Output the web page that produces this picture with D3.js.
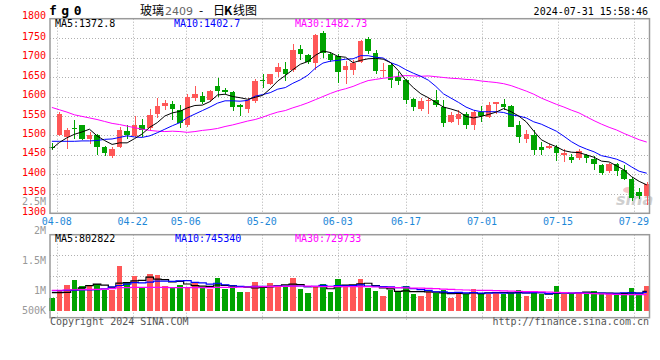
<!DOCTYPE html>
<html>
<head>
<meta charset="utf-8">
<script src="https://cdn.jsdelivr.net/npm/d3@7"></script>
<style>
  body { margin: 0; background: #fff; }
  svg { display: block; }
  text { font-family: "DejaVu Sans Mono", monospace; font-size: 10px; }
</style>
</head>
<body>
<div id="chart"></div>
<script>
// trading days shown (2024)
const dates = [
  "04-03","04-08","04-09","04-10","04-11","04-12","04-15","04-16","04-17","04-18",
  "04-19","04-22","04-23","04-24","04-25","04-26","04-29","04-30","05-06","05-07",
  "05-08","05-09","05-10","05-13","05-14","05-15","05-16","05-17","05-20","05-21",
  "05-22","05-23","05-24","05-27","05-28","05-29","05-30","05-31","06-03","06-04",
  "06-05","06-06","06-07","06-11","06-12","06-13","06-14","06-17","06-18","06-19",
  "06-20","06-21","06-24","06-25","06-26","06-27","06-28","07-01","07-02","07-03",
  "07-04","07-05","07-08","07-09","07-10","07-11","07-12","07-15","07-16","07-17",
  "07-18","07-19","07-22","07-23","07-24","07-25","07-26","07-29","07-30","07-31"
];
const tickDates = ["04-08","04-22","05-06","05-20","06-03","06-17","07-01","07-15","07-29"];
const priceTicks = [1800,1750,1700,1650,1600,1550,1500,1450,1400,1350,1300];
const volTicks = [2500000, 2000000, 1500000, 1000000, 500000];
const volTickText = ["2.5M","2M","1.5M","1M","500K"];

const open = [1470,1500,1496,1520,1526,1490,1500,1470,1446,1471,1511,1498,1526,1518,1555,1576,1580,1565,1526,1595,
  1601,1591,1626,1618,1612,1577,1567,1589,1642,1632,1663,1672,1668,1722,1706,1685,1762,1709,1704,1668,
  1668,1689,1747,1711,1665,1681,1650,1642,1593,1569,1588,1591,1572,1535,1543,1555,1526,1561,1548,1582,
  1580,1575,1526,1490,1501,1471,1469,1471,1449,1445,1443,1449,1439,1423,1409,1426,1411,1387,1355,1344];
const high = [1480,1560,1519,1541,1528,1509,1503,1472,1470,1521,1526,1549,1543,1568,1597,1590,1589,1578,1606,1626,
  1612,1617,1648,1623,1614,1580,1595,1644,1657,1659,1685,1689,1736,1732,1709,1760,1768,1715,1709,1692,
  1695,1745,1752,1719,1685,1683,1663,1644,1595,1597,1595,1616,1591,1561,1565,1561,1565,1575,1586,1587,
  1593,1578,1537,1513,1513,1483,1479,1475,1466,1453,1464,1453,1447,1426,1428,1430,1423,1393,1366,1381];
const low = [1462,1499,1466,1492,1488,1478,1449,1446,1442,1468,1492,1496,1497,1514,1546,1565,1541,1518,1522,1589,
  1580,1586,1600,1606,1563,1549,1558,1584,1623,1629,1651,1640,1663,1695,1683,1669,1698,1689,1635,1632,
  1655,1687,1709,1659,1649,1621,1629,1582,1563,1563,1556,1572,1523,1531,1527,1516,1513,1535,1546,1556,
  1565,1521,1481,1481,1450,1449,1464,1434,1432,1428,1438,1430,1411,1398,1404,1395,1385,1332,1338,1321];
const close = [1467,1555,1515,1517,1492,1501,1470,1455,1466,1513,1501,1526,1513,1552,1575,1584,1567,1531,1599,1606,
  1587,1614,1614,1611,1573,1574,1591,1640,1639,1657,1675,1657,1719,1709,1689,1758,1712,1695,1663,1678,
  1685,1743,1717,1666,1668,1642,1640,1592,1573,1589,1591,1578,1532,1552,1556,1526,1561,1549,1578,1585,
  1572,1522,1495,1503,1462,1463,1472,1455,1455,1438,1460,1443,1426,1404,1426,1409,1389,1340,1344,1376];

const ma5 = [1466,1482,1494,1503,1509,1516,1499,1487,1477,1481,1481,1492,1504,1521,1533,1550,1558,1562,1571,1577,
  1578,1587,1604,1606,1600,1597,1593,1598,1603,1620,1640,1654,1669,1683,1690,1706,1717,1713,1703,1701,
  1687,1693,1697,1698,1696,1687,1667,1642,1623,1607,1597,1585,1573,1568,1562,1549,1545,1549,1554,1560,
  1569,1561,1550,1535,1511,1489,1479,1471,1461,1457,1456,1450,1444,1434,1432,1422,1411,1394,1382,1373];
const ma10 = [1485,1485,1485,1485,1486,1486,1487,1490,1491,1495,1499,1496,1495,1499,1507,1516,1525,1533,1546,1555,
  1564,1573,1583,1589,1589,1588,1590,1601,1605,1610,1619,1623,1634,1643,1655,1673,1686,1691,1693,1696,
  1697,1705,1705,1701,1699,1687,1680,1669,1660,1652,1642,1626,1607,1596,1585,1573,1565,1561,1561,1561,
  1559,1553,1550,1545,1535,1529,1520,1511,1498,1484,1473,1465,1458,1448,1444,1439,1431,1419,1408,1403];
const ma30 = [1572,1566,1560,1553,1549,1545,1541,1536,1531,1528,1524,1520,1516,1513,1511,1510,1511,1510,1508,1510,
  1513,1515,1518,1523,1527,1532,1537,1541,1547,1554,1560,1564,1571,1577,1584,1592,1600,1608,1615,1620,
  1626,1634,1641,1644,1647,1649,1652,1654,1653,1652,1653,1651,1649,1647,1646,1644,1643,1640,1638,1636,
  1633,1628,1621,1614,1606,1596,1588,1580,1573,1565,1558,1548,1538,1529,1521,1514,1505,1497,1489,1483];

const volume = [565000,870000,1117000,1335000,1074000,1074000,1161000,900000,900000,1957000,
  1191000,1522000,1017000,1596000,1552000,1074000,1017000,1117000,1043000,1191000,
  974000,943000,1435000,943000,1117000,826000,826000,1261000,1043000,1217000,
  1043000,1043000,1435000,943000,783000,1043000,1174000,826000,1378000,1117000,
  1117000,1378000,974000,857000,639000,900000,826000,1074000,726000,639000,
  826000,783000,900000,552000,726000,726000,943000,783000,726000,783000,
  726000,826000,900000,639000,826000,726000,509000,1074000,726000,726000,
  783000,726000,857000,726000,726000,726000,726000,987000,670000,1074000];
const volMa5 = [783000,783000,800000,900000,992000,1094000,1152000,1109000,1022000,1198000,
  1222000,1294000,1317000,1457000,1376000,1352000,1251000,1271000,1161000,1088000,
  1068000,1054000,1117000,1097000,1082000,1053000,1029000,995000,1015000,1035000,
  1078000,1121000,1156000,1136000,1049000,1049000,1076000,954000,1041000,1108000,
  1122000,1163000,1193000,1089000,993000,950000,839000,859000,833000,833000,
  818000,810000,775000,740000,757000,737000,769000,746000,781000,792000,
  792000,769000,792000,775000,783000,783000,720000,755000,772000,752000,
  764000,807000,764000,764000,764000,752000,752000,778000,767000,837000];
const volMa10 = [870000,870000,880000,890000,900000,900000,910000,950000,1030000,1095000,
  1158000,1223000,1213000,1239000,1287000,1287000,1273000,1294000,1309000,1232000,
  1210000,1152000,1194000,1129000,1085000,1061000,1042000,1056000,1056000,1059000,
  1065000,1075000,1075000,1075000,1042000,1064000,1099000,1055000,1089000,1079000,
  1086000,1119000,1073000,1065000,1050000,1036000,1001000,1026000,961000,913000,
  884000,824000,817000,787000,795000,778000,790000,760000,760000,775000,
  765000,769000,769000,778000,788000,788000,744000,774000,774000,768000,
  774000,764000,759000,768000,758000,758000,780000,771000,765000,800000];
const volMa30 = [887000,890000,900000,910000,920000,925000,930000,940000,960000,1000000,
  1005000,1010000,1015000,1017000,1015000,1010000,1005000,1000000,1000000,1000000,
  1000000,1005000,1010000,1015000,1017000,1020000,1030000,1035000,1043000,1050000,
  1055000,1060000,1070000,1074000,1070000,1060000,1050000,1043000,1043000,1043000,
  1043000,1043000,1043000,1030000,1020000,1010000,1000000,990000,985000,980000,
  974000,960000,940000,925000,910000,900000,890000,885000,880000,870000,
  860000,850000,840000,833000,826000,815000,805000,795000,783000,770000,
  760000,750000,740000,730000,720000,710000,700000,700000,700000,700000];

let w = 660;
let h = 360;
let left = 50, right = 649.5;
let mainTop = 18.7, mainBottom = 213.3;
let volTop = 234.7, volBottom = 317.7;

const red = "#ff5757";
const green = "#00a300";

let svg = d3.select("#chart")
  .append("svg")
  .attr("width", w)
  .attr("height", h);

// scales
let x = d3.scaleBand().domain(dates).range([48.1, 650.5]);
let cx = d => x(d) + x.bandwidth() / 2;
let xTick = d3.scaleBand().domain(dates).range([45.3, 652.9]);
let tx = d => xTick(d) + xTick.bandwidth() / 2;
let y = d3.scaleLinear().domain([1300, 1800]).range([mainBottom, mainTop]);
let yVol = d3.scaleLinear().domain([0, 3300000]).range([310.7, 234.8]);
let yVolTick = d3.scaleLinear().domain([1000000, 2000000]).range([294, 234]);
let bw = 5.5;

let crisp = v => Math.round(v) + 0.5;

// grid
let grid = svg.append("g")
  .attr("stroke", "#b0b0b0")
  .attr("stroke-width", 1)
  .attr("stroke-dasharray", "1,2");

grid.selectAll(".hgrid")
  .data(priceTicks.slice(1, -1))
  .enter()
  .append("line")
  .attr("x1", left).attr("x2", right)
  .attr("y1", d => crisp(y(d))).attr("y2", d => crisp(y(d)));

grid.selectAll(".vgrid")
  .data(tickDates)
  .enter()
  .append("line")
  .attr("x1", d => crisp(tx(d))).attr("x2", d => crisp(tx(d)))
  .attr("y1", mainTop).attr("y2", mainBottom);

grid.selectAll(".vgrid2")
  .data(tickDates)
  .enter()
  .append("line")
  .attr("x1", d => crisp(tx(d))).attr("x2", d => crisp(tx(d)))
  .attr("y1", volTop).attr("y2", 320);

grid.selectAll(".volgrid")
  .data([1, 2, 3])
  .enter()
  .append("line")
  .attr("x1", left).attr("x2", right)
  .attr("y1", d => crisp(volTop + d * (volBottom - volTop) / 4))
  .attr("y2", d => crisp(volTop + d * (volBottom - volTop) / 4));

// sina watermark
svg.append("ellipse")
  .attr("cx", 628).attr("cy", 190)
  .attr("rx", 5).attr("ry", 3)
  .attr("fill", "#f5b5b5")
  .attr("opacity", 0.8);
svg.append("text")
  .attr("x", 616).attr("y", 205)
  .attr("fill", "#cfcfcf")
  .style("font-family", "DejaVu Sans")
  .style("font-size", "16px")
  .style("font-weight", "bold")
  .style("font-style", "italic")
  .text("sina");

// volume bars
svg.append("g")
  .attr("shape-rendering", "crispEdges")
  .selectAll("rect")
  .data(dates)
  .enter()
  .append("rect")
  .attr("x", d => cx(d) - bw / 2)
  .attr("y", (d, i) => yVol(volume[i]))
  .attr("width", bw)
  .attr("height", (d, i) => yVol(0) - yVol(volume[i]))
  .attr("fill", (d, i) => close[i] >= open[i] ? red : green);

// volume MA lines
let volLine = arr => d3.line()
  .x(d => cx(d))
  .y((d, i) => yVol(arr[i]))
  .curve(d3.curveStep)(dates);

[[volMa5, "#000"], [volMa10, "#0000ff"], [volMa30, "#ff00ff"]].forEach(function (s) {
  svg.append("path")
    .attr("d", volLine(s[0]))
    .attr("fill", "none")
    .attr("stroke", s[1])
    .attr("stroke-width", 1.2);
});

// candles
let candles = svg.append("g")
  .selectAll(".candle")
  .data(dates)
  .enter()
  .append("g")
  .attr("class", "candle")
  .attr("shape-rendering", "crispEdges");

candles.append("line")
  .attr("x1", d => crisp(cx(d))).attr("x2", d => crisp(cx(d)))
  .attr("y1", (d, i) => y(high[i]))
  .attr("y2", (d, i) => y(low[i]))
  .attr("stroke", (d, i) => close[i] >= open[i] ? red : green);

candles.append("rect")
  .attr("x", d => cx(d) - bw / 2)
  .attr("y", (d, i) => y(Math.max(open[i], close[i])))
  .attr("width", bw)
  .attr("height", (d, i) => Math.max(1, Math.abs(y(open[i]) - y(close[i]))))
  .attr("fill", (d, i) => close[i] >= open[i] ? red : green);

// price MA lines
let maLine = arr => d3.line()
  .x(d => cx(d))
  .y((d, i) => y(arr[i]))(dates);

[[ma30, "#ff00ff"], [ma10, "#0000ff"], [ma5, "#000"]].forEach(function (s) {
  svg.append("path")
    .attr("d", maLine(s[0]))
    .attr("fill", "none")
    .attr("stroke", s[1])
    .attr("stroke-width", 1);
});

// panel borders
svg.append("rect")
  .attr("x", left).attr("y", mainTop)
  .attr("width", right - left).attr("height", mainBottom - mainTop)
  .attr("fill", "none").attr("stroke", "#9a9a9a").attr("stroke-width", 1.5);
svg.append("rect")
  .attr("x", left).attr("y", volTop)
  .attr("width", right - left).attr("height", volBottom - volTop)
  .attr("fill", "none").attr("stroke", "#9a9a9a").attr("stroke-width", 1.5);

// price axis labels
svg.selectAll(".plabel")
  .data(priceTicks)
  .enter()
  .append("text")
  .attr("x", 46)
  .attr("y", (d, i) => i === 0 ? y(d) : y(d) + 1.5)
  .attr("text-anchor", "end")
  .attr("fill", "#ff0000")
  .text(d => d);

// volume axis labels (2.5M sits just under the 1350 label, as in the original)
svg.selectAll(".vlabel")
  .data(volTicks)
  .enter()
  .append("text")
  .attr("x", 46)
  .attr("y", d => Math.min(yVolTick(d), 314) + (d > 2000000 ? 0.6 : 0))
  .attr("text-anchor", "end")
  .attr("fill", "#999")
  .text((d, i) => volTickText[i]);

// date labels
svg.selectAll(".xlabel")
  .data(tickDates)
  .enter()
  .append("text")
  .attr("x", d => tx(d))
  .attr("y", 225)
  .attr("text-anchor", "middle")
  .attr("fill", "#1e88d8")
  .text(d => d);

// header
svg.append("text")
  .attr("x", 49).attr("y", 15)
  .style("font-size", "13px")
  .style("font-weight", "bold")
  .style("letter-spacing", "4.5px")
  .text("fg0");

let title = svg.append("text").attr("y", 15).style("font-family", "'Noto Sans CJK SC'").style("font-size", "12px");
title.append("tspan").attr("x", 140).text("玻璃");
title.append("tspan").attr("x", 165).attr("fill", "#666").style("font-family", "DejaVu Sans").style("font-size", "11px").text("2409");
title.append("tspan").attr("x", 199).text("-");
title.append("tspan").attr("x", 213).text("日");
title.append("tspan").attr("x", 224).style("font-weight", "bold").text("K");
title.append("tspan").attr("x", 233).text("线图");

svg.append("text")
  .attr("x", 648).attr("y", 15)
  .attr("text-anchor", "end")
  .text("2024-07-31 15:58:46");

let maLabels = [["MA5:1372.8", 55, "#000"], ["MA10:1402.7", 174, "#0000ff"], ["MA30:1482.73", 295, "#ff00ff"]];
svg.selectAll(".malabel")
  .data(maLabels)
  .enter()
  .append("text")
  .attr("x", d => d[1]).attr("y", 27)
  .attr("fill", d => d[2])
  .text(d => d[0]);

let volLabels = [["MA5:802822", 55, "#000"], ["MA10:745340", 175, "#0000ff"], ["MA30:729733", 295, "#ff00ff"]];
svg.selectAll(".vmalabel")
  .data(volLabels)
  .enter()
  .append("text")
  .attr("x", d => d[1]).attr("y", 242)
  .attr("fill", d => d[2])
  .text(d => d[0]);

// footer
svg.append("text")
  .attr("x", 50).attr("y", 325)
  .attr("fill", "#555")
  .text("Copyright 2024 SINA.COM");
svg.append("text")
  .attr("x", 649).attr("y", 325)
  .attr("text-anchor", "end")
  .attr("fill", "#555")
  .text("http://finance.sina.com.cn");
</script>
</body>
</html>
